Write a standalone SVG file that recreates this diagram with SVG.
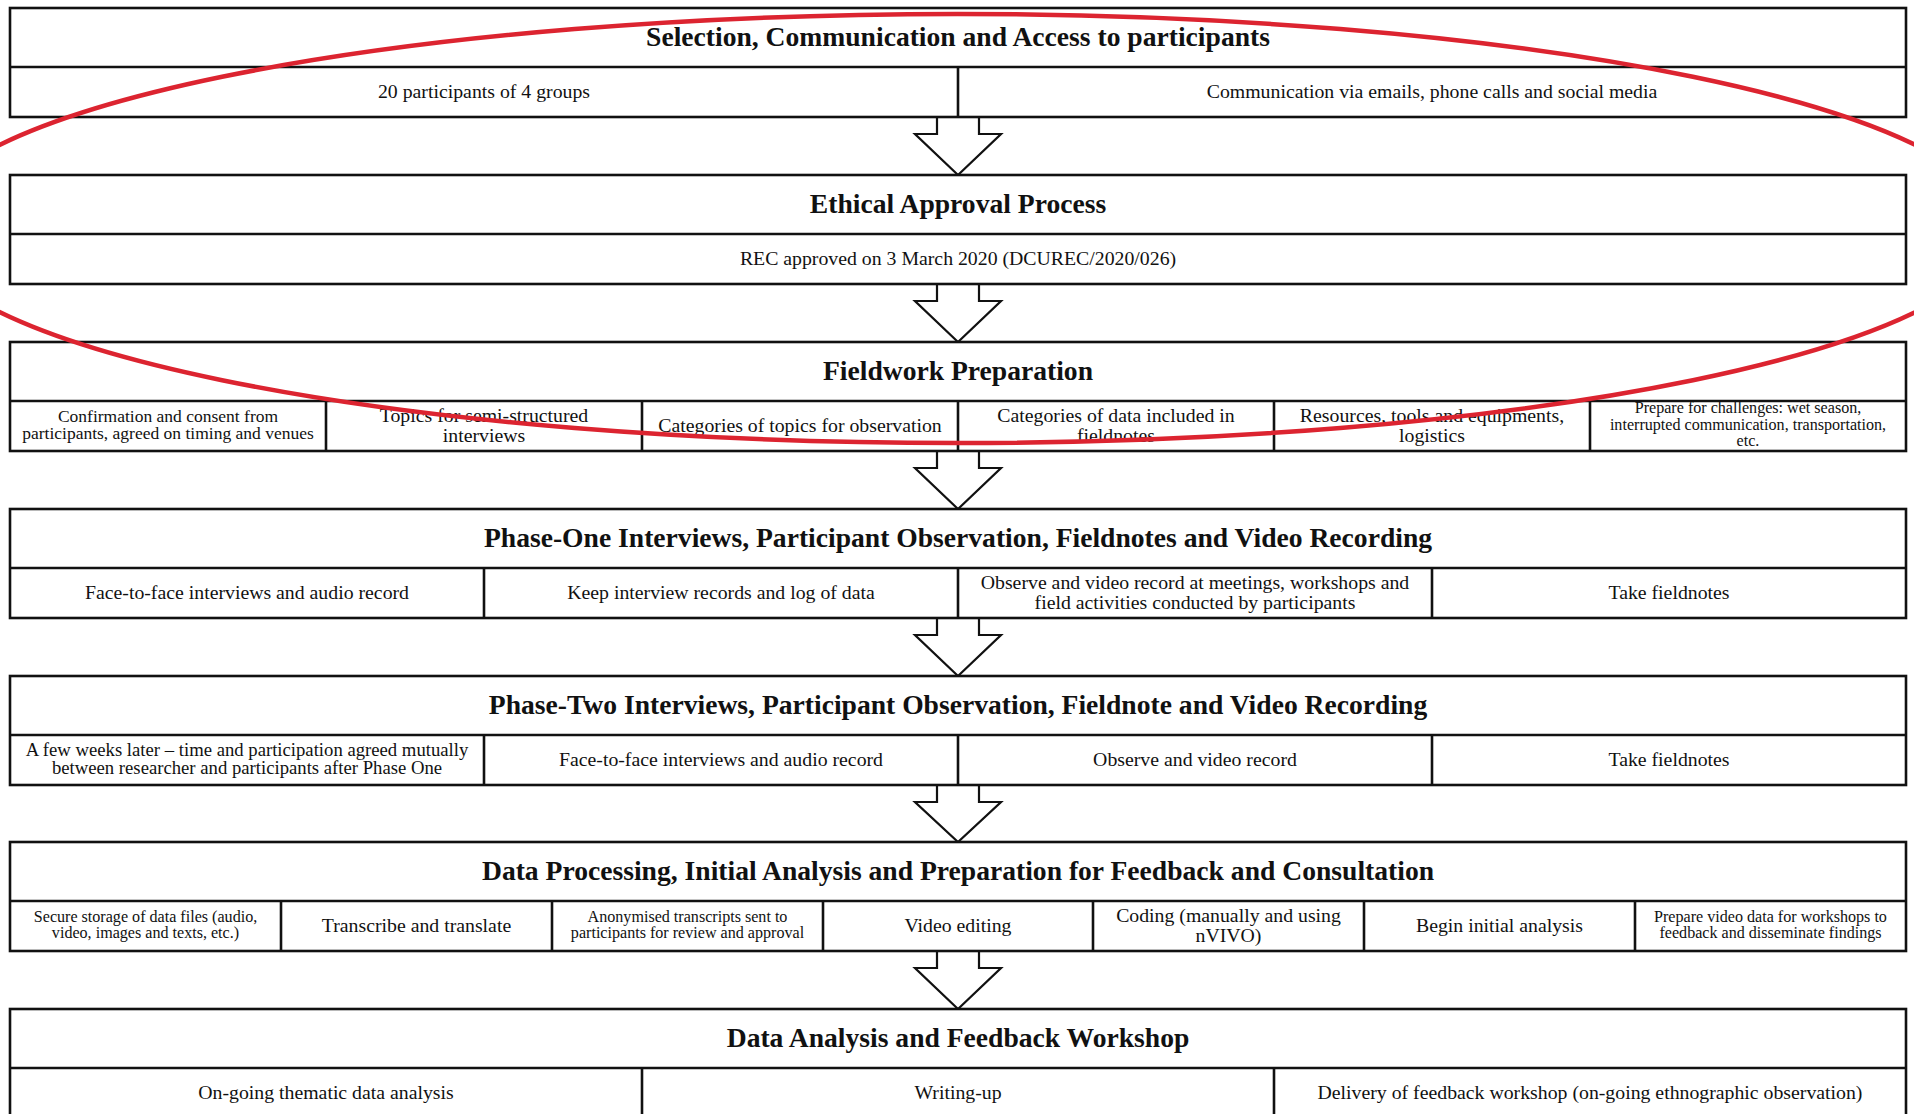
<svg xmlns="http://www.w3.org/2000/svg" width="1914" height="1114" viewBox="0 0 1914 1114">
<style>
.box{fill:#fff;stroke:#111;stroke-width:2.6}
.div{stroke:#111;stroke-width:2.6}
.arr{fill:#fff;stroke:#111;stroke-width:2.2;stroke-linejoin:miter}
text{font-family:"Liberation Serif","Times New Roman",serif;fill:#111;text-anchor:middle}
.ttl{font-size:27.6px;font-weight:bold}
.t{font-size:19.8px}
.m{font-size:18.7px}
.s{font-size:17.5px}
.xs{font-size:16.1px}
.ring{fill:none;stroke:#dc2430;stroke-width:4.5}
</style>
<rect width="1914" height="1114" fill="#fff"/>

<g id="connectors">
<polygon class="arr" points="937,117 937,134 915,134 958,175 1001,134 979,134 979,117"/>
<polygon class="arr" points="937,284 937,301 915,301 958,342 1001,301 979,301 979,284"/>
<polygon class="arr" points="937,451 937,468 915,468 958,509 1001,468 979,468 979,451"/>
<polygon class="arr" points="937,618 937,635 915,635 958,676 1001,635 979,635 979,618"/>
<polygon class="arr" points="937,785 937,802 915,802 958,842 1001,802 979,802 979,785"/>
<polygon class="arr" points="937,951 937,968 915,968 958,1009 1001,968 979,968 979,951"/>
</g>

<g id="selection">
<rect class="box" x="10" y="8" width="1896" height="109"/>
<line class="div" x1="10" y1="67" x2="1906" y2="67"/>
<line class="div" x1="958" y1="67" x2="958" y2="117"/>
<text class="ttl" x="958" y="45.5">Selection, Communication and Access to participants</text>
<text class="t" x="484" y="98">20 participants of 4 groups</text>
<text class="t" x="1432" y="98">Communication via emails, phone calls and social media</text>
</g>

<g id="ethical">
<rect class="box" x="10" y="175" width="1896" height="109"/>
<line class="div" x1="10" y1="234" x2="1906" y2="234"/>
<text class="ttl" x="958" y="212.5">Ethical Approval Process</text>
<text class="t" x="958" y="265">REC approved on 3 March 2020 (DCUREC/2020/026)</text>
</g>

<g id="fieldwork">
<rect class="box" x="10" y="342" width="1896" height="109"/>
<line class="div" x1="10" y1="401" x2="1906" y2="401"/>
<line class="div" x1="326" y1="401" x2="326" y2="451"/>
<line class="div" x1="642" y1="401" x2="642" y2="451"/>
<line class="div" x1="958" y1="401" x2="958" y2="451"/>
<line class="div" x1="1274" y1="401" x2="1274" y2="451"/>
<line class="div" x1="1590" y1="401" x2="1590" y2="451"/>
<text class="ttl" x="958" y="379.5">Fieldwork Preparation</text>
<text class="s" x="168" y="421.5"><tspan x="168">Confirmation and consent from</tspan><tspan x="168" dy="17.5">participants, agreed on timing and venues</tspan></text>
<text class="t" x="484" y="422"><tspan x="484">Topics for semi-structured</tspan><tspan x="484" dy="19.5">interviews</tspan></text>
<text class="t" x="800" y="432">Categories of topics for observation</text>
<text class="t" x="1116" y="422"><tspan x="1116">Categories of data included in</tspan><tspan x="1116" dy="19.5">fieldnotes</tspan></text>
<text class="t" x="1432" y="422"><tspan x="1432">Resources, tools and equipments,</tspan><tspan x="1432" dy="19.5">logistics</tspan></text>
<text class="xs" x="1748" y="413"><tspan x="1748">Prepare for challenges: wet season,</tspan><tspan x="1748" dy="16.5">interrupted communication, transportation,</tspan><tspan x="1748" dy="16.5">etc.</tspan></text>
</g>

<g id="phase-one">
<rect class="box" x="10" y="509" width="1896" height="109"/>
<line class="div" x1="10" y1="568" x2="1906" y2="568"/>
<line class="div" x1="484" y1="568" x2="484" y2="618"/>
<line class="div" x1="958" y1="568" x2="958" y2="618"/>
<line class="div" x1="1432" y1="568" x2="1432" y2="618"/>
<text class="ttl" x="958" y="546.5">Phase-One Interviews, Participant Observation, Fieldnotes and Video Recording</text>
<text class="t" x="247" y="599">Face-to-face interviews and audio record</text>
<text class="t" x="721" y="599">Keep interview records and log of data</text>
<text class="t" x="1195" y="589"><tspan x="1195">Observe and video record at meetings, workshops and</tspan><tspan x="1195" dy="19.5">field activities conducted by participants</tspan></text>
<text class="t" x="1669" y="599">Take fieldnotes</text>
</g>

<g id="phase-two">
<rect class="box" x="10" y="676" width="1896" height="109"/>
<line class="div" x1="10" y1="735" x2="1906" y2="735"/>
<line class="div" x1="484" y1="735" x2="484" y2="785"/>
<line class="div" x1="958" y1="735" x2="958" y2="785"/>
<line class="div" x1="1432" y1="735" x2="1432" y2="785"/>
<text class="ttl" x="958" y="713.5">Phase-Two Interviews, Participant Observation, Fieldnote and Video Recording</text>
<text class="m" x="247" y="755.5"><tspan x="247">A few weeks later – time and participation agreed mutually</tspan><tspan x="247" dy="18">between researcher and participants after Phase One</tspan></text>
<text class="t" x="721" y="766">Face-to-face interviews and audio record</text>
<text class="t" x="1195" y="766">Observe and video record</text>
<text class="t" x="1669" y="766">Take fieldnotes</text>
</g>

<g id="data-processing">
<rect class="box" x="10" y="842" width="1896" height="109"/>
<line class="div" x1="10" y1="901" x2="1906" y2="901"/>
<line class="div" x1="281" y1="901" x2="281" y2="951"/>
<line class="div" x1="552" y1="901" x2="552" y2="951"/>
<line class="div" x1="823" y1="901" x2="823" y2="951"/>
<line class="div" x1="1093" y1="901" x2="1093" y2="951"/>
<line class="div" x1="1364" y1="901" x2="1364" y2="951"/>
<line class="div" x1="1635" y1="901" x2="1635" y2="951"/>
<text class="ttl" x="958" y="879.5">Data Processing, Initial Analysis and Preparation for Feedback and Consultation</text>
<text class="xs" x="145.5" y="921.5"><tspan x="145.5">Secure storage of data files (audio,</tspan><tspan x="145.5" dy="16.5">video, images and texts, etc.)</tspan></text>
<text class="t" x="416.5" y="932">Transcribe and translate</text>
<text class="xs" x="687.5" y="921.5"><tspan x="687.5">Anonymised transcripts sent to</tspan><tspan x="687.5" dy="16.5">participants for review and approval</tspan></text>
<text class="t" x="958" y="932">Video editing</text>
<text class="t" x="1228.5" y="922"><tspan x="1228.5">Coding (manually and using</tspan><tspan x="1228.5" dy="19.5">nVIVO)</tspan></text>
<text class="t" x="1499.5" y="932">Begin initial analysis</text>
<text class="xs" x="1770.5" y="921.5"><tspan x="1770.5">Prepare video data for workshops to</tspan><tspan x="1770.5" dy="16.5">feedback and disseminate findings</tspan></text>
</g>

<g id="data-analysis">
<rect class="box" x="10" y="1009" width="1896" height="109"/>
<line class="div" x1="10" y1="1068" x2="1906" y2="1068"/>
<line class="div" x1="642" y1="1068" x2="642" y2="1118"/>
<line class="div" x1="1274" y1="1068" x2="1274" y2="1118"/>
<text class="ttl" x="958" y="1046.5">Data Analysis and Feedback Workshop</text>
<text class="t" x="326" y="1099">On-going thematic data analysis</text>
<text class="t" x="958" y="1099">Writing-up</text>
<text class="t" x="1590" y="1099">Delivery of feedback workshop (on-going ethnographic observation)</text>
</g>

<g id="highlight">
<ellipse class="ring" cx="957.5" cy="228.5" rx="1040" ry="214.5"/>
</g>
</svg>
